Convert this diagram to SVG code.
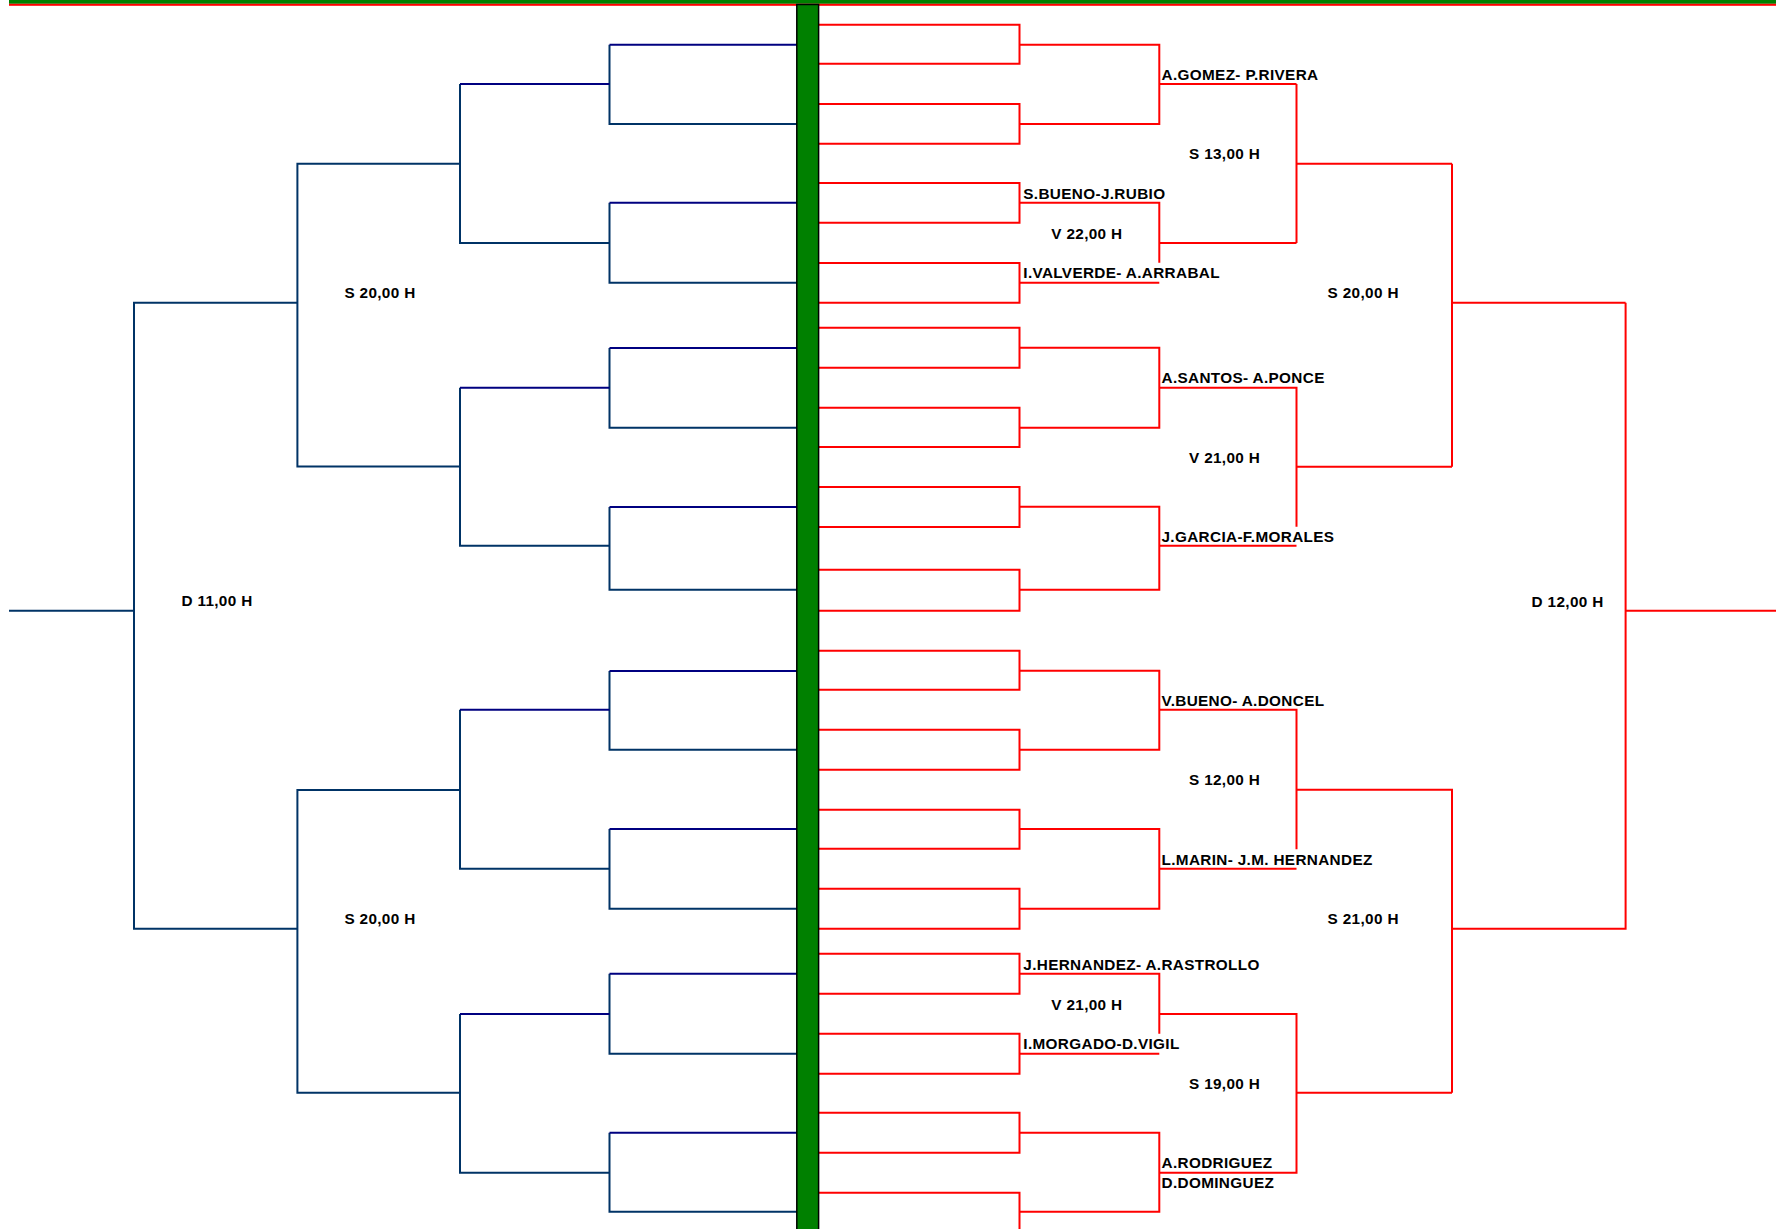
<svg xmlns="http://www.w3.org/2000/svg" width="1776" height="1229" viewBox="0 0 1776 1229">
<style>
.b{fill:none;stroke:#003366;stroke-width:2}
.n{fill:none;stroke:#000080;stroke-width:2}
.r{fill:none;stroke:#FF0000;stroke-width:2}
.t{font-family:"Liberation Sans",Arial,sans-serif;font-weight:bold;font-size:15.3px;letter-spacing:0.35px;fill:#000}
</style>
<rect x="0" y="0" width="1776" height="1229" fill="#fff"/>
<g id="top-band">
<rect x="9" y="0" width="1767" height="3.8" fill="#008000"/>
<rect x="9" y="3.8" width="1767" height="2" fill="#FF0000"/>
</g>
<g id="connectors">
<g id="left-bracket">
<path class="b" d="M609.5,44.7V124H797M609.5,202.7V282.7H797M609.5,348V427.7H797M609.5,507V589.7H797M609.5,671V749.7H797M609.5,829V908.7H797M609.5,973.7V1053.7H797M609.5,1132.7V1211.7H797"/>
<path class="n" d="M797,44.7H609.5M797,202.7H609.5M797,348H609.5M797,507H609.5M797,671H609.5M797,829H609.5M797,973.7H609.5M797,1132.7H609.5"/>
<path class="b" d="M460,84V243H609.5M460,387.7V545.7H609.5M460,709.7V868.7H609.5M460,1014V1172.7H609.5"/>
<path class="n" d="M609.5,84H460M609.5,387.7H460M609.5,709.7H460M609.5,1014H460"/>
<path class="b" d="M460,163.7H297.4V466.5H460M460,790H297.4V1092.7H460"/>
<path class="b" d="M297.4,302.7H134V928.7H297.4M134,610.7H9"/>
</g>
<g id="right-bracket">
<path class="r" d="M819,24.7H1019.5V63.7H819M819,104H1019.5V143.7H819M819,183H1019.5V222.7H819M819,263H1019.5V302.7H819"/>
<path class="r" d="M819,327.7H1019.5V367.7H819M819,407.7H1019.5V447H819M819,487H1019.5V527H819M819,569.7H1019.5V610.7H819"/>
<path class="r" d="M819,650.7H1019.5V689.7H819M819,729.7H1019.5V769.7H819M819,809.7H1019.5V848.7H819M819,888.7H1019.5V928.7H819"/>
<path class="r" d="M819,953.7H1019.5V993.7H819M819,1033.7H1019.5V1073.7H819M819,1112.7H1019.5V1152.7H819M819,1192.7H1019.5V1240"/>
<path class="r" d="M1019.5,44.7H1159.3V124H1019.5M1159.3,84H1296.5M1019.5,202.7H1159.3V262.7M1019.5,282.7H1159.3M1159.3,243H1296.5M1296.5,84V243M1296.5,163.7H1452"/>
<path class="r" d="M1019.5,347.7H1159.3V427.7H1019.5M1159.3,387.7H1296.5V526.7M1019.5,506.7H1159.3V589.7H1019.5M1159.3,545.7H1296.5M1296.5,466.7H1452M1452,163.7V466.7M1452,302.7H1625.6"/>
<path class="r" d="M1019.5,670.7H1159.3V749.7H1019.5M1159.3,709.7H1296.5V849.3M1019.5,829H1159.3V908.7H1019.5M1159.3,868.7H1296.5M1296.5,789.7H1452V1092.7"/>
<path class="r" d="M1019.5,973.7H1159.3V1033.7M1019.5,1053.7H1159.3M1159.3,1014H1296.5V1172.7H1159.3M1019.5,1132.7H1159.3V1211.7H1019.5M1296.5,1092.7H1452M1452,928.7H1625.6V302.7M1625.6,610.7H1776"/>
</g>
</g>
<g id="center-bar">
<rect x="796.8" y="4.5" width="21.8" height="1230" fill="#008000" stroke="#000" stroke-width="1.5"/>
</g>
<g id="label-l-s20-top"><text class="t" x="344.4" y="298.3">S 20,00 H</text></g>
<g id="label-l-d11"><text class="t" x="181.4" y="606">D 11,00 H</text></g>
<g id="label-l-s20-bottom"><text class="t" x="344.4" y="924">S 20,00 H</text></g>
<g id="label-gomez"><text class="t" x="1161.5" y="80">A.GOMEZ- P.RIVERA</text></g>
<g id="label-s13"><text class="t" x="1189" y="158.7">S 13,00 H</text></g>
<g id="label-bueno"><text class="t" x="1023.3" y="199">S.BUENO-J.RUBIO</text></g>
<g id="label-v22"><text class="t" x="1051.3" y="239.3">V 22,00 H</text></g>
<g id="label-valverde"><text class="t" x="1023.3" y="278.3">I.VALVERDE- A.ARRABAL</text></g>
<g id="label-r-s20"><text class="t" x="1327.6" y="297.7">S 20,00 H</text></g>
<g id="label-santos"><text class="t" x="1161.5" y="383.3">A.SANTOS- A.PONCE</text></g>
<g id="label-v21-top"><text class="t" x="1189" y="463.3">V 21,00 H</text></g>
<g id="label-garcia"><text class="t" x="1161.5" y="542">J.GARCIA-F.MORALES</text></g>
<g id="label-d12"><text class="t" x="1531.6" y="606.7">D 12,00 H</text></g>
<g id="label-vbueno"><text class="t" x="1161.5" y="706">V.BUENO- A.DONCEL</text></g>
<g id="label-s12"><text class="t" x="1189" y="785.3">S 12,00 H</text></g>
<g id="label-marin"><text class="t" x="1161.5" y="865.3">L.MARIN- J.M. HERNANDEZ</text></g>
<g id="label-s21"><text class="t" x="1327.6" y="924">S 21,00 H</text></g>
<g id="label-hernandez"><text class="t" x="1023.3" y="970">J.HERNANDEZ- A.RASTROLLO</text></g>
<g id="label-v21-bottom"><text class="t" x="1051.3" y="1010">V 21,00 H</text></g>
<g id="label-morgado"><text class="t" x="1023.3" y="1049.3">I.MORGADO-D.VIGIL</text></g>
<g id="label-s19"><text class="t" x="1189" y="1089.3">S 19,00 H</text></g>
<g id="label-rodriguez"><text class="t" x="1161.5" y="1168">A.RODRIGUEZ</text><text class="t" x="1161.5" y="1188">D.DOMINGUEZ</text></g>
</svg>
